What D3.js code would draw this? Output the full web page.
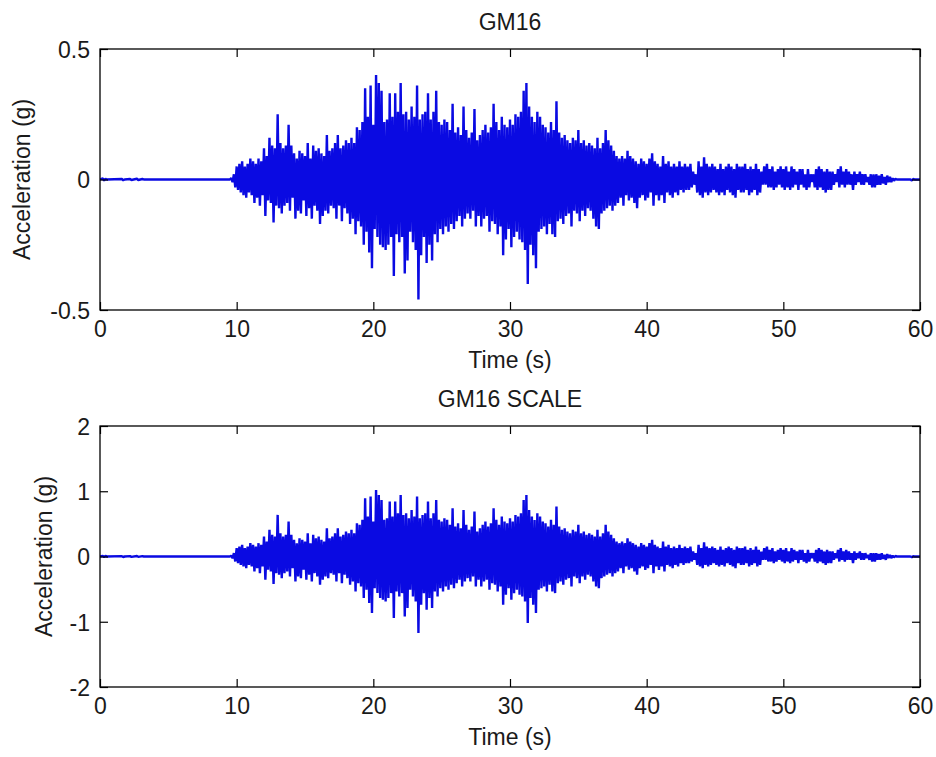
<!DOCTYPE html>
<html>
<head>
<meta charset="utf-8">
<script src="https://cdn.jsdelivr.net/npm/d3@7"></script>
<style>
  body { margin: 0; background: #fff; }
  text { font-family: "Liberation Sans", Arial, sans-serif; fill: #1a1a1a; }
</style>
</head>
<body>
<div id="chart"></div>
<script>
// chart size
var svgWidth = 936;
var svgHeight = 757;

// ---- data ----
var xTicks = [0, 10, 20, 30, 40, 50, 60];
var yTicksTop = [-0.5, 0, 0.5];
var yTicksBottom = [-2, -1, 0, 1, 2];
var titles = ["GM16", "GM16 SCALE"];
var scaleFactor = 2.55;   // GM16 SCALE = GM16 record * factor

// quiet part before the strong motion (time s, acc g)
var quietTimes = [0, 0.2, 0.3, 0.4, 0.5, 1.6, 1.7, 1.8, 2.2, 2.3, 2.7, 2.8, 3.1, 3.2, 9.5];
var quietAcc   = [0, 0.004, -0.004, 0.003, 0, 0.002, -0.003, 0, 0.002, -0.002, 0.003, -0.002, 0.002, 0, 0];

// strong motion record, sampled every dt seconds from recordStart
var recordStart = 9.6;
var dt = 0.1;
var accel = [
  0.005, -0.01, 0.02, -0.03,                                  // 9.6 - 9.9
  0.05, -0.04, 0.06, -0.05, 0.07, -0.06, 0.05, -0.07, 0.06, -0.05,   // 10
  0.08, -0.06, 0.07, -0.09, 0.06, -0.07, 0.08, -0.10, 0.07, -0.06,   // 11
  0.12, -0.14, 0.09, -0.08, 0.16, -0.09, 0.13, -0.165, 0.12, -0.10,  // 12
  0.25, -0.11, 0.14, -0.13, 0.12, -0.10, 0.13, -0.09, 0.21, -0.12,   // 13
  0.13, -0.07, 0.10, -0.15, 0.08, -0.12, 0.11, -0.13, 0.10, -0.08,   // 14
  0.09, -0.14, 0.14, -0.11, 0.08, -0.15, 0.13, -0.10, 0.11, -0.12,   // 15
  0.12, -0.17, 0.10, -0.14, 0.09, -0.12, 0.17, -0.13, 0.11, -0.10,   // 16
  0.12, -0.11, 0.14, -0.15, 0.17, -0.10, 0.12, -0.16, 0.13, -0.11,   // 17
  0.15, -0.13, 0.14, -0.17, 0.16, -0.15, 0.14, -0.21, 0.20, -0.16,   // 18
  0.19, -0.18, 0.22, -0.25, 0.35, -0.20, 0.24, -0.28, 0.36, -0.34,   // 19
  0.21, -0.19, 0.40, -0.22, 0.37, -0.25, 0.34, -0.26, 0.22, -0.27,   // 20
  0.23, -0.25, 0.33, -0.22, 0.24, -0.37, 0.33, -0.21, 0.26, -0.24,   // 21
  0.37, -0.22, 0.25, -0.36, 0.26, -0.31, 0.23, -0.20, 0.28, -0.24,   // 22
  0.24, -0.27, 0.36, -0.46, 0.23, -0.29, 0.25, -0.22, 0.26, -0.32,   // 23
  0.33, -0.25, 0.23, -0.31, 0.26, -0.21, 0.34, -0.24, 0.22, -0.19,   // 24
  0.21, -0.21, 0.23, -0.18, 0.22, -0.20, 0.19, -0.17, 0.29, -0.19,   // 25
  0.18, -0.16, 0.20, -0.14, 0.17, -0.18, 0.28, -0.15, 0.19, -0.13,   // 26
  0.16, -0.15, 0.18, -0.12, 0.27, -0.18, 0.15, -0.14, 0.17, -0.18,   // 27
  0.19, -0.15, 0.21, -0.14, 0.18, -0.20, 0.20, -0.16, 0.29, -0.17,   // 28
  0.22, -0.21, 0.19, -0.18, 0.24, -0.29, 0.21, -0.23, 0.20, -0.19,   // 29
  0.23, -0.26, 0.21, -0.22, 0.25, -0.20, 0.24, -0.23, 0.26, -0.24,   // 30
  0.34, -0.27, 0.37, -0.40, 0.28, -0.25, 0.24, -0.29, 0.22, -0.34,   // 31
  0.26, -0.20, 0.24, -0.19, 0.21, -0.18, 0.20, -0.21, 0.18, -0.17,   // 32
  0.22, -0.21, 0.19, -0.22, 0.30, -0.16, 0.18, -0.15, 0.16, -0.17,   // 33
  0.17, -0.14, 0.15, -0.13, 0.14, -0.18, 0.16, -0.12, 0.15, -0.13,   // 34
  0.19, -0.16, 0.14, -0.12, 0.15, -0.14, 0.13, -0.11, 0.14, -0.12,   // 35
  0.13, -0.15, 0.12, -0.18, 0.16, -0.19, 0.12, -0.13, 0.14, -0.12,   // 36
  0.19, -0.11, 0.15, -0.10, 0.13, -0.12, 0.11, -0.10, 0.09, -0.09,   // 37
  0.08, -0.07, 0.09, -0.10, 0.08, -0.06, 0.11, -0.08, 0.09, -0.07,   // 38
  0.08, -0.09, 0.07, -0.11, 0.06, -0.07, 0.08, -0.06, 0.07, -0.08,   // 39
  0.06, -0.07, 0.08, -0.05, 0.10, -0.10, 0.07, -0.06, 0.06, -0.08,   // 40
  0.05, -0.06, 0.09, -0.09, 0.06, -0.05, 0.07, -0.06, 0.05, -0.07,   // 41
  0.06, -0.05, 0.05, -0.06, 0.07, -0.04, 0.05, -0.05, 0.06, -0.04,   // 42
  0.05, -0.04, 0.06, -0.03, 0.03, -0.02, 0.02, -0.05, 0.07, -0.06,   // 43
  0.05, -0.07, 0.085, -0.05, 0.06, -0.06, 0.05, -0.05, 0.06, -0.04,  // 44
  0.05, -0.05, 0.04, -0.06, 0.06, -0.05, 0.04, -0.06, 0.05, -0.04,   // 45
  0.06, -0.05, 0.05, -0.06, 0.04, -0.07, 0.06, -0.04, 0.05, -0.05,   // 46
  0.05, -0.05, 0.06, -0.04, 0.04, -0.06, 0.05, -0.05, 0.04, -0.04,   // 47
  0.06, -0.06, 0.04, -0.05, 0.03, -0.02, 0.05, -0.02, 0.06, -0.03,   // 48
  0.04, -0.03, 0.05, -0.04, 0.03, -0.03, 0.04, -0.02, 0.05, -0.03,   // 49
  0.04, -0.04, 0.05, -0.03, 0.03, -0.04, 0.05, -0.03, 0.04, -0.02,   // 50
  0.03, -0.04, 0.04, -0.02, 0.04, -0.03, 0.02, -0.04, 0.04, -0.03,   // 51
  0.02, -0.01, 0.02, -0.03, 0.04, -0.04, 0.05, -0.03, 0.04, -0.04,   // 52
  0.03, -0.05, 0.04, -0.04, 0.03, -0.04, 0.03, -0.02, 0.02, -0.01,   // 53
  0.04, -0.03, 0.05, -0.02, 0.03, -0.03, 0.04, -0.02, 0.03, -0.02,   // 54
  0.02, -0.04, 0.03, -0.02, 0.02, -0.01, 0.03, -0.02, 0.02, -0.02,   // 55
  0.02, -0.01, 0.01, -0.02, 0.02, -0.03, 0.02, -0.03, 0.02, -0.02,   // 56
  0.015, -0.02, 0.02, -0.015, 0.01, -0.02, 0.015, -0.01, 0.01, -0.01, // 57
  0.005, -0.005, 0.003, 0                                      // 58.0 - 58.3
];

// quiet tail after the record
var tailTimes = [58.4, 59.3, 59.4, 59.5, 59.6, 60];
var tailAcc   = [0, 0, -0.004, 0.002, 0, 0];

// ---- build series ----
function buildSeries(factor){
  var pts = [];
  quietTimes.forEach(function(t, i){ pts.push({t: t, a: quietAcc[i] * factor}); });
  accel.forEach(function(a, i){ pts.push({t: recordStart + i * dt, a: a * factor}); });
  tailTimes.forEach(function(t, i){ pts.push({t: t, a: tailAcc[i] * factor}); });
  return pts;
}

// plain hyphen for negatives, like the original figure
function fmtTick(d){ return String(d).replace('\u2212', '-'); }

var svg = d3.select('#chart')
  .append('svg')
  .attr('width', svgWidth)
  .attr('height', svgHeight);

var left = 100, right = 920;
var panels = [
  {top: 49,  bottom: 310, domain: [-0.5, 0.5], ticks: yTicksTop,    data: buildSeries(1),           ylabelX: 30, title: titles[0]},
  {top: 426, bottom: 687, domain: [-2, 2],     ticks: yTicksBottom, data: buildSeries(scaleFactor), ylabelX: 52, title: titles[1]}
];

var x = d3.scaleLinear().domain([0, 60]).range([left, right]);
var fontSize = 23;
var tickLen = 8;

panels.forEach(function(p, k){
  var y = d3.scaleLinear().domain(p.domain).range([p.bottom, p.top]);
  var g = svg.append('g');

  g.append('clipPath').attr('id', 'clip' + k)
    .append('rect')
    .attr('x', left).attr('y', p.top)
    .attr('width', right - left).attr('height', p.bottom - p.top);

  // signal
  var line = d3.line()
    .x(function(d){ return x(d.t); })
    .y(function(d){ return y(d.a); });

  g.append('path')
    .datum(p.data)
    .attr('clip-path', 'url(#clip' + k + ')')
    .attr('fill', 'none')
    .attr('stroke', '#0a0ae2')
    .attr('stroke-width', 2.4)
    .attr('stroke-linejoin', 'bevel')
    .attr('d', line);

  // axes, MATLAB style box with inward ticks
  var xAxisB = d3.axisBottom(x).tickValues(xTicks).tickSize(-tickLen).tickPadding(8);
  var xAxisT = d3.axisTop(x).tickValues(xTicks).tickSize(-tickLen).tickFormat('');
  var yAxisL = d3.axisLeft(y).tickValues(p.ticks).tickSize(-tickLen).tickPadding(10).tickFormat(fmtTick);
  var yAxisR = d3.axisRight(y).tickValues(p.ticks).tickSize(-tickLen).tickFormat('');

  function styleAxis(sel){
    sel.select('.domain').remove();
    sel.selectAll('line').attr('stroke', '#000').attr('stroke-width', 1.2);
    sel.selectAll('text')
      .style('font-size', fontSize + 'px')
      .style('font-family', '"Liberation Sans", Arial, sans-serif')
      .attr('fill', '#1a1a1a');
  }

  g.append('g').attr('transform', 'translate(0,' + p.bottom + ')').call(xAxisB).call(styleAxis)
    .selectAll('text').attr('dy', '0.71em').attr('y', 11);
  g.append('g').attr('transform', 'translate(0,' + p.top + ')').call(xAxisT).call(styleAxis);
  g.append('g').attr('transform', 'translate(' + left + ',0)').call(yAxisL).call(styleAxis)
    .selectAll('text').attr('dy', '0.36em');
  g.append('g').attr('transform', 'translate(' + right + ',0)').call(yAxisR).call(styleAxis);

  g.append('rect')
    .attr('x', left).attr('y', p.top)
    .attr('width', right - left).attr('height', p.bottom - p.top)
    .attr('fill', 'none')
    .attr('stroke', '#000')
    .attr('stroke-width', 1.3);

  // labels
  g.append('text')
    .attr('x', (left + right) / 2)
    .attr('y', p.top - 19)
    .attr('text-anchor', 'middle')
    .style('font-size', fontSize + 'px')
    .text(p.title);

  g.append('text')
    .attr('x', (left + right) / 2)
    .attr('y', p.bottom + 58)
    .attr('text-anchor', 'middle')
    .style('font-size', fontSize + 'px')
    .text('Time (s)');

  g.append('text')
    .attr('transform', 'translate(' + p.ylabelX + ',' + ((p.top + p.bottom) / 2) + ') rotate(-90)')
    .attr('text-anchor', 'middle')
    .style('font-size', fontSize + 'px')
    .text('Acceleration (g)');
});
</script>
</body>
</html>
